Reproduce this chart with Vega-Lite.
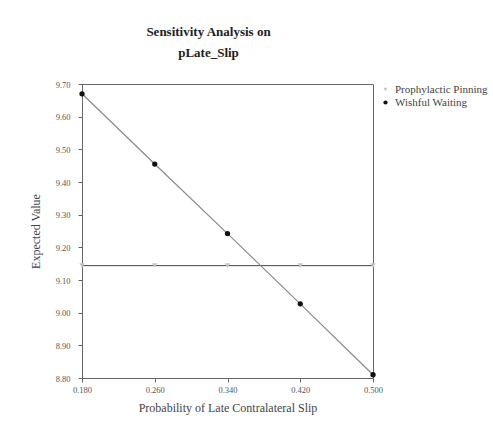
{
  "$schema": "https://vega.github.io/schema/vega-lite/v6.json",
  "autosize": "none",
  "width": 291,
  "height": 294,
  "padding": {"left": 82, "top": 84, "right": 120, "bottom": 44},
  "background": "white",
  "title": {
    "text": ["Sensitivity Analysis on", "pLate_Slip"],
    "font": "Liberation Serif",
    "fontSize": 13,
    "fontWeight": "bold",
    "lineHeight": 21,
    "color": "#222",
    "anchor": "middle",
    "dx": -19,
    "offset": 20
  },
  "data": {
    "values": [
      {"p": 0.18, "ev": 9.144, "series": "Prophylactic Pinning"},
      {"p": 0.26, "ev": 9.144, "series": "Prophylactic Pinning"},
      {"p": 0.34, "ev": 9.144, "series": "Prophylactic Pinning"},
      {"p": 0.42, "ev": 9.144, "series": "Prophylactic Pinning"},
      {"p": 0.50, "ev": 9.144, "series": "Prophylactic Pinning"},
      {"p": 0.18, "ev": 9.67, "series": "Wishful Waiting"},
      {"p": 0.26, "ev": 9.455, "series": "Wishful Waiting"},
      {"p": 0.34, "ev": 9.242, "series": "Wishful Waiting"},
      {"p": 0.42, "ev": 9.027, "series": "Wishful Waiting"},
      {"p": 0.50, "ev": 8.81, "series": "Wishful Waiting"}
    ]
  },
  "encoding": {
    "x": {
      "field": "p", "type": "quantitative",
      "scale": {"domain": [0.18, 0.5], "nice": false, "zero": false},
      "axis": {
        "title": "Probability of Late Contralateral Slip",
        "values": [0.18, 0.26, 0.34, 0.42, 0.5],
        "format": ".3f",
        "grid": false,
        "labelFlush": false,
        "tickSize": 4,
        "labelPadding": 3,
        "titlePadding": 9
      }
    },
    "y": {
      "field": "ev", "type": "quantitative",
      "scale": {"domain": [8.8, 9.7], "nice": false, "zero": false},
      "axis": {
        "title": "Expected Value",
        "values": [8.8, 8.9, 9.0, 9.1, 9.2, 9.3, 9.4, 9.5, 9.6, 9.7],
        "format": ".2f",
        "grid": false,
        "labelFlush": false,
        "tickSize": 4,
        "labelPadding": 8,
        "titlePadding": 13
      }
    }
  },
  "layer": [
    {
      "transform": [{"filter": "datum.series === 'Prophylactic Pinning'"}],
      "mark": {"type": "line", "strokeWidth": 1, "color": "#444444"},
      "encoding": {}
    },
    {
      "transform": [{"filter": "datum.series === 'Wishful Waiting'"}],
      "mark": {"type": "line", "strokeWidth": 1.2, "color": "#8a8a8a"},
      "encoding": {}
    },
    {
      "mark": {"type": "point", "filled": true, "opacity": 1, "size": 28},
      "encoding": {
        "color": {
          "field": "series", "type": "nominal",
          "scale": {"domain": ["Prophylactic Pinning", "Wishful Waiting"], "range": ["#c4c4c4", "#111111"]},
          "legend": {"title": null, "orient": "none", "legendX": 298, "legendY": 0}
        },
        "shape": {
          "field": "series", "type": "nominal",
          "scale": {"domain": ["Prophylactic Pinning", "Wishful Waiting"], "range": ["triangle-down", "circle"]},
          "legend": {"title": null, "orient": "none", "legendX": 298, "legendY": 0}
        }
      }
    }
  ],
  "config": {
    "font": "Liberation Serif",
    "view": {"stroke": "#666666", "strokeWidth": 1},
    "legend": {
      "labelFont": "Liberation Serif",
      "labelFontSize": 11,
      "labelColor": "#444",
      "rowPadding": 1,
      "symbolSize": 18,
      "labelLimit": 300
    },
    "axis": {
      "labelFont": "Liberation Serif",
      "labelFontSize": 8.5,
      "labelColor": "#555",
      "titleFont": "Liberation Serif",
      "titleFontSize": 12,
      "titleFontWeight": "normal",
      "titleColor": "#444",
      "domainColor": "#666",
      "tickColor": "#666"
    }
  }
}
